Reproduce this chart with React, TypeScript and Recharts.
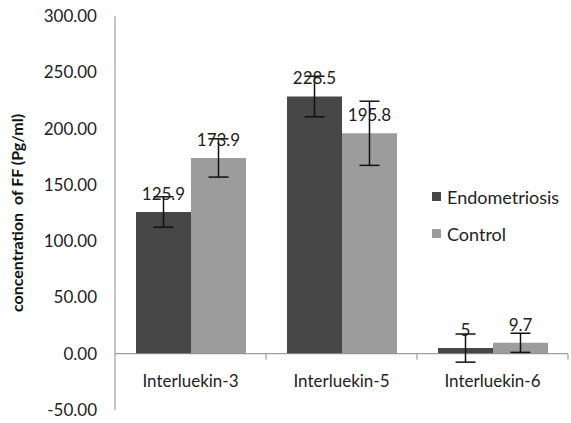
import { Bar, BarChart, ErrorBar, LabelList, Legend, ReferenceLine, XAxis, YAxis } from 'recharts'

const categories = ['Interluekin-3', 'Interluekin-5', 'Interluekin-6']
const endometriosis = [125.9, 228.5, 5]
const control = [173.9, 195.8, 9.7]
const endometriosisErr = [13.5, 18, 12.5]
const controlErr = [17, 28.5, 8.5]
const yTicks = [-50, 0, 50, 100, 150, 200, 250, 300]

const data = categories.map((name, i) => ({
    name,
    endometriosis: endometriosis[i],
    control: control[i],
    endometriosisErr: endometriosisErr[i],
    controlErr: controlErr[i],
}))

const WIDTH = 571
const HEIGHT = 423
const MARGIN = { top: 16, right: 3, bottom: 0, left: 10 }
const Y_AXIS_WIDTH = 105
const X_AXIS_HEIGHT = 13
const Y_MIN = -50
const Y_MAX = 300
const PLOT_W = WIDTH - MARGIN.left - MARGIN.right - Y_AXIS_WIDTH
const PLOT_H = HEIGHT - MARGIN.top - MARGIN.bottom - X_AXIS_HEIGHT
// the zero line works as the category axis, labels and ticks hang from it
const ZERO_Y = MARGIN.top + (PLOT_H * Y_MAX) / (Y_MAX - Y_MIN)
const HALF_BAND = PLOT_W / categories.length / 2

const ENDO = '#474747'
const CTRL = '#9c9c9c'
const TEXT = '#222'

const CategoryTick = (props: any) => {
    const { x, payload } = props
    return (
        <g>
            <text x={x} y={ZERO_Y + 33} textAnchor="middle" fill={TEXT} fontSize={17}>
                {payload.value}
            </text>
            <line
                x1={x + HALF_BAND}
                x2={x + HALF_BAND}
                y1={ZERO_Y}
                y2={ZERO_Y + 6}
                stroke="#8a8a8a"
            />
        </g>
    )
}

const LegendBox = () => (
    <div style={{ fontSize: 18, color: TEXT }}>
        {[
            { label: 'Endometriosis', color: ENDO },
            { label: 'Control', color: CTRL },
        ].map((item) => (
            <div key={item.label} style={{ display: 'flex', alignItems: 'center', height: 37 }}>
                <span
                    style={{
                        display: 'inline-block',
                        width: 9,
                        height: 9,
                        background: item.color,
                        marginRight: 6,
                    }}
                />
                {item.label}
            </div>
        ))}
    </div>
)

const App = () => {
    return (
        <div style={{ position: 'absolute', left: 0, top: 0, fontFamily: 'Lato, sans-serif', background: '#fff' }}>
            <BarChart width={WIDTH} height={HEIGHT} data={data} margin={MARGIN} barGap={0}>
                <XAxis
                    dataKey="name"
                    height={X_AXIS_HEIGHT}
                    axisLine={false}
                    tickLine={false}
                    tick={<CategoryTick />}
                    interval={0}
                />
                <YAxis
                    domain={[Y_MIN, Y_MAX]}
                    ticks={yTicks}
                    width={Y_AXIS_WIDTH}
                    tickFormatter={(v: number) => v.toFixed(2)}
                    tick={{ fill: TEXT, fontSize: 17 }}
                    tickLine={false}
                    tickSize={6}
                    tickMargin={12}
                    axisLine={{ stroke: '#8a8a8a' }}
                    label={{
                        value: 'concentration\u00a0 of FF (Pg/ml)',
                        angle: -90,
                        position: 'insideLeft',
                        offset: 7,
                        style: { textAnchor: 'middle', fontWeight: 'bold', fontSize: 16, fill: '#111' },
                    }}
                />
                <ReferenceLine y={0} stroke="#8a8a8a" />
                <Legend
                    layout="vertical"
                    align="center"
                    verticalAlign="middle"
                    content={<LegendBox />}
                    wrapperStyle={{ left: 432, top: 178, width: 140 }}
                />
                <Bar dataKey="endometriosis" name="Endometriosis" fill={ENDO} barSize={55} isAnimationActive={false}>
                    <ErrorBar dataKey="endometriosisErr" width={10} stroke="#111" strokeWidth={1.5} direction="y" />
                    <LabelList dataKey="endometriosis" position="top" offset={12} fill={TEXT} fontSize={17} />
                </Bar>
                <Bar dataKey="control" name="Control" fill={CTRL} barSize={55} isAnimationActive={false}>
                    <ErrorBar dataKey="controlErr" width={10} stroke="#111" strokeWidth={1.5} direction="y" />
                    <LabelList dataKey="control" position="top" offset={12} fill={TEXT} fontSize={17} />
                </Bar>
            </BarChart>
        </div>
    )
}

export default App
